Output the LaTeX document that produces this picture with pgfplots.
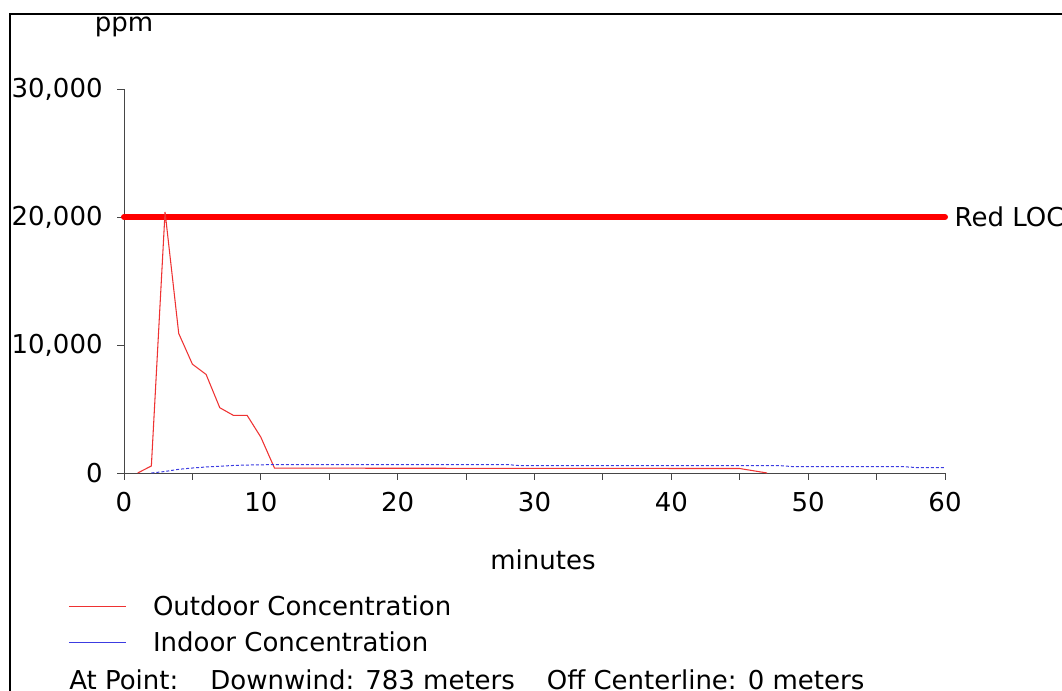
\documentclass[border=0pt]{standalone}
\usepackage{pgfplots}
\pgfplotsset{compat=1.18}
\usepackage{fontspec}
\setmainfont{DejaVu Sans}

\definecolor{outdoor}{RGB}{238,50,50}
\definecolor{indoor}{RGB}{60,60,225}
\definecolor{loc}{RGB}{255,0,0}
\definecolor{axisgray}{RGB}{70,70,70}

\newcommand{\chartfont}{\fontsize{19.5}{23}\selectfont}

% long, solid legend swatches
\pgfplotsset{
  long swatch/.style={
    legend image code/.code={\draw[##1, solid] (0pt,0pt) -- (42.75pt,0pt);}},
}

\begin{document}
\begin{tikzpicture}[font=\chartfont]
\useasboundingbox (0pt,0pt) rectangle (796.5pt,-518.25pt);
\clip (0pt,0pt) rectangle (796.5pt,-518.25pt);
% outer frame
\draw[line width=1.5pt] (7.5pt,-540pt) -- (7.5pt,-10.5pt) -- (830pt,-10.5pt);
\begin{axis}[
  at={(93pt,-354.75pt)}, anchor=south west,
  scale only axis, width=615.75pt, height=288pt,
  xmin=0, xmax=60, ymin=0, ymax=30000,
  clip=false,
  axis lines=left,
  axis line style={axisgray, line width=0.75pt, -},
  tick style={axisgray, line width=0.75pt},
  tick align=outside,
  major tick length=5pt, minor tick length=5pt,
  xtick={0,10,...,60}, minor xtick={5,15,...,55},
  ytick={0,10000,20000,30000},
  scaled y ticks=false,
  /pgf/number format/assume math mode=true,
  /pgf/number format/1000 sep={,},
  tick label style={font=\chartfont, text=black},
  xticklabel style={yshift=-6pt},
  yticklabel style={xshift=-7.5pt},
  xlabel={minutes}, ylabel={ppm},
  every axis x label/.style={at={(axis description cs:0.5103,-0.25)}, anchor=base, font=\chartfont},
  every axis y label/.style={at={(axis description cs:0,1.151)}, anchor=base, font=\chartfont},
  legend style={at={(axis description cs:-0.0682,-0.3177)}, anchor=north west,
    draw=none, fill=none, inner sep=0pt, row sep=11pt, column sep=20pt,
    nodes={inner sep=0pt}, font=\chartfont},
  legend cell align=left,
]
% level of concern
\addplot[loc, line width=4.5pt, line cap=round, forget plot]
  coordinates {(0,20000) (60,20000)}
  node[pos=1, anchor=west, inner sep=0pt, xshift=5pt, text=black] {Red LOC};
% outdoor concentration
\addplot[outdoor, line width=0.8pt, long swatch]
  coordinates {(1,0) (2,550) (3,20400) (4,10900) (5,8500) (6,7700) (7,5100)
    (8,4500) (9,4500) (10,2800) (11,380) (45,350) (47,0)};
\addlegendentry{Outdoor Concentration}
% indoor concentration
\addplot[indoor, line width=0.75pt, dash pattern=on 2.25pt off 1.5pt, long swatch]
  coordinates {(2,0) (3,120) (4,290) (5,390) (6,470) (7,530) (8,590) (9,620)
    (10,640) (11,660) (28,660) (29,570) (48,570) (49,490) (57,490) (58,420) (60,420)};
\addlegendentry{Indoor Concentration}
\end{axis}
\node[anchor=base west, inner sep=0pt] at (51.75pt,-516.75pt)
  {At Point:\hspace{24pt}Downwind: 783 meters\hspace{24pt}Off Centerline: 0 meters};
\end{tikzpicture}
\end{document}
